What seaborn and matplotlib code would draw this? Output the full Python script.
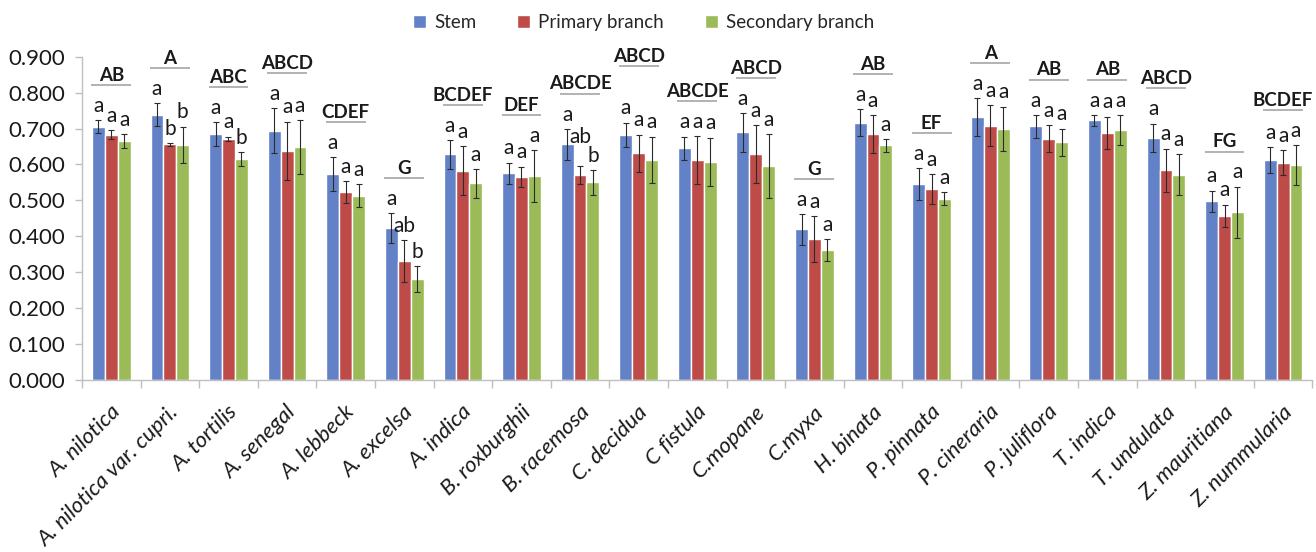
import numpy as np
import pandas as pd
import matplotlib
matplotlib.use("Agg")
import matplotlib.pyplot as plt
import matplotlib.transforms as mtransforms
import seaborn as sns

# Species and wood density of the three plant parts
species = ["A. nilotica", "A. nilotica var. cupri.", "A. tortilis", "A. senegal",
           "A. lebbeck", "A. excelsa", "A. indica", "B. roxburghii", "B. racemosa",
           "C. decidua", "C fistula", "C.mopane", "C.myxa", "H. binata", "P. pinnata",
           "P. cineraria", "P. juliflora", "T. indica", "T. undulata",
           "Z. mauritiana", "Z. nummularia"]
parts = ["Stem", "Primary branch", "Secondary branch"]

stem = [0.705, 0.738, 0.685, 0.694, 0.573, 0.422, 0.628, 0.575, 0.656, 0.682,
        0.645, 0.689, 0.419, 0.716, 0.545, 0.731, 0.706, 0.723, 0.674, 0.497, 0.612]
primary = [0.683, 0.656, 0.671, 0.638, 0.524, 0.331, 0.583, 0.565, 0.571, 0.631,
           0.612, 0.628, 0.393, 0.685, 0.532, 0.708, 0.672, 0.688, 0.584, 0.457, 0.605]
secondary = [0.665, 0.655, 0.615, 0.649, 0.513, 0.281, 0.547, 0.568, 0.550, 0.612,
             0.608, 0.596, 0.362, 0.653, 0.504, 0.699, 0.662, 0.696, 0.571, 0.467, 0.598]

stem_err = [0.018, 0.032, 0.033, 0.062, 0.047, 0.042, 0.040, 0.030, 0.043, 0.034,
            0.032, 0.053, 0.042, 0.037, 0.045, 0.053, 0.032, 0.015, 0.040, 0.030, 0.037]
primary_err = [0.013, 0.004, 0.006, 0.081, 0.030, 0.059, 0.068, 0.029, 0.026, 0.052,
               0.067, 0.081, 0.064, 0.052, 0.041, 0.057, 0.037, 0.045, 0.060, 0.031, 0.035]
secondary_err = [0.020, 0.050, 0.020, 0.075, 0.032, 0.036, 0.039, 0.072, 0.034, 0.065,
                 0.067, 0.089, 0.030, 0.017, 0.018, 0.062, 0.038, 0.041, 0.057, 0.071, 0.056]

# Significance letters: between species (upper case) and between parts (lower case)
group_letters = ["AB", "A", "ABC", "ABCD", "CDEF", "G", "BCDEF", "DEF", "ABCDE", "ABCD",
                 "ABCDE", "ABCD", "G", "AB", "EF", "A", "AB", "AB", "ABCD", "FG", "BCDEF"]
stem_letters = ["a"] * 21
primary_letters = ["a", "b", "a", "a", "a", "ab", "a", "a", "ab", "a", "a", "a",
                   "a", "a", "a", "a", "a", "a", "a", "a", "a"]
secondary_letters = ["a", "b", "b", "a", "a", "b", "a", "a", "b", "a", "a", "a",
                     "a", "a", "a", "a", "a", "a", "a", "a", "a"]

colors = ["#6381C6", "#BE4B48", "#9BBB59"]

sns.set_theme(style="white")
plt.rcParams["font.family"] = ["Lato", "DejaVu Sans"]

df = pd.DataFrame({
    "Species": species * 3,
    "Part": [parts[0]] * 21 + [parts[1]] * 21 + [parts[2]] * 21,
    "Value": stem + primary + secondary,
    "Err": stem_err + primary_err + secondary_err,
    "Letter": stem_letters + primary_letters + secondary_letters,
})

fig = plt.figure(figsize=(13.16, 5.52), dpi=100)
ax = fig.add_axes([0.0623, 0.3116, 0.935, 0.5857])

sns.barplot(data=df, x="Species", y="Value", hue="Part", order=species,
            hue_order=parts, palette=colors, width=0.66, errorbar=None,
            saturation=1, ax=ax)

handles, labels = ax.get_legend_handles_labels()
ax.get_legend().remove()

ax.set_ylim(0, 0.9)
ax.set_xlim(-0.5, len(species) - 0.5)

fig.canvas.draw()
renderer = fig.canvas.get_renderer()
to_data = ax.transData.inverted()


def top_in_data(artist):
    bb = artist.get_window_extent(renderer)
    return to_data.transform((bb.x1, bb.y1))[1]


# Error bars and per-part letters; letters are stacked right to left so that
# a letter never sits on its right-hand neighbour
letter_top = np.zeros(len(species))
for k in (2, 1, 0):
    cont, part = ax.containers[k], parts[k]
    sub = df[df["Part"] == part].reset_index(drop=True)
    for i, bar in enumerate(cont):
        x = bar.get_x() + bar.get_width() / 2
        h = bar.get_height()
        e = sub.loc[i, "Err"]
        ax.errorbar(x, h, yerr=e, color="#2b2b2b", lw=0.8, capsize=2.2,
                    capthick=0.8, zorder=3)
        y = h + e + 0.012
        txt = ax.text(x, y, sub.loc[i, "Letter"], ha="center", va="bottom",
                      fontsize=15, color="#1a1a1a")
        if k < 2:
            neighbours = [t for t in ax.texts[:-1] if getattr(t, "_grp", None) == i]
            for _ in range(6):
                bb = txt.get_window_extent(renderer).shrunk(1.0, 0.75)
                if any(bb.overlaps(n.get_window_extent(renderer).shrunk(1.0, 0.75))
                       for n in neighbours):
                    y += 0.02
                    txt.set_y(y)
                else:
                    break
        txt._grp = i
        letter_top[i] = max(letter_top[i], top_in_data(txt))

# Species letters with a rule beneath; raised when they would collide
placed = []
for i, lab in enumerate(group_letters):
    y = letter_top[i] + 0.03
    txt = ax.text(i, y + 0.004, lab, ha="center", va="bottom", fontsize=13.5,
                  fontweight="bold", color="#1a1a1a")
    for _ in range(4):
        bb = txt.get_window_extent(renderer).expanded(1.12, 1.0)
        if any(bb.overlaps(p) for p in placed):
            y += 0.06
            txt.set_y(y + 0.004)
        else:
            break
    placed.append(txt.get_window_extent(renderer))
    ax.plot([i - 0.34, i + 0.34], [y, y], color="#A6A6A6", lw=1.2,
            solid_capstyle="butt", zorder=3)

ax.set_yticks(np.arange(0, 0.901, 0.1))
ax.set_yticklabels([f"{v:.3f}" for v in np.arange(0, 0.901, 0.1)], fontsize=16,
                   color="#1a1a1a")
ax.set_xlabel("")
ax.set_ylabel("")

ax.set_xticks(np.arange(-0.5, len(species), 1.0), minor=True)
ax.tick_params(axis="x", which="minor", length=6, color="#BFBFBF", width=1,
               direction="out", bottom=True)
ax.tick_params(axis="x", which="major", length=0, pad=2)
ax.tick_params(axis="y", length=5, color="#BFBFBF", width=1, direction="out",
               left=True, pad=7)

offset = mtransforms.ScaledTranslation(-1 / 100, -19 / 100, fig.dpi_scale_trans)
ax.set_xticks(range(len(species)))
ax.set_xticklabels(species, rotation=45, ha="right", va="top",
                   rotation_mode="anchor", fontsize=16, style="italic",
                   color="#1a1a1a")
for lbl in ax.get_xticklabels():
    lbl.set_transform(lbl.get_transform() + offset)

for side in ["top", "right"]:
    ax.spines[side].set_visible(False)
for side in ["left", "bottom"]:
    ax.spines[side].set_color("#BFBFBF")
    ax.spines[side].set_linewidth(1)

fig.legend(handles, labels, loc="upper center", bbox_to_anchor=(0.489, 1.005),
           ncol=3, frameon=False, fontsize=13.5, handlelength=0.7,
           handleheight=0.7, columnspacing=2.2, handletextpad=0.4)

fig.savefig("out.png", dpi=100, facecolor="white")
